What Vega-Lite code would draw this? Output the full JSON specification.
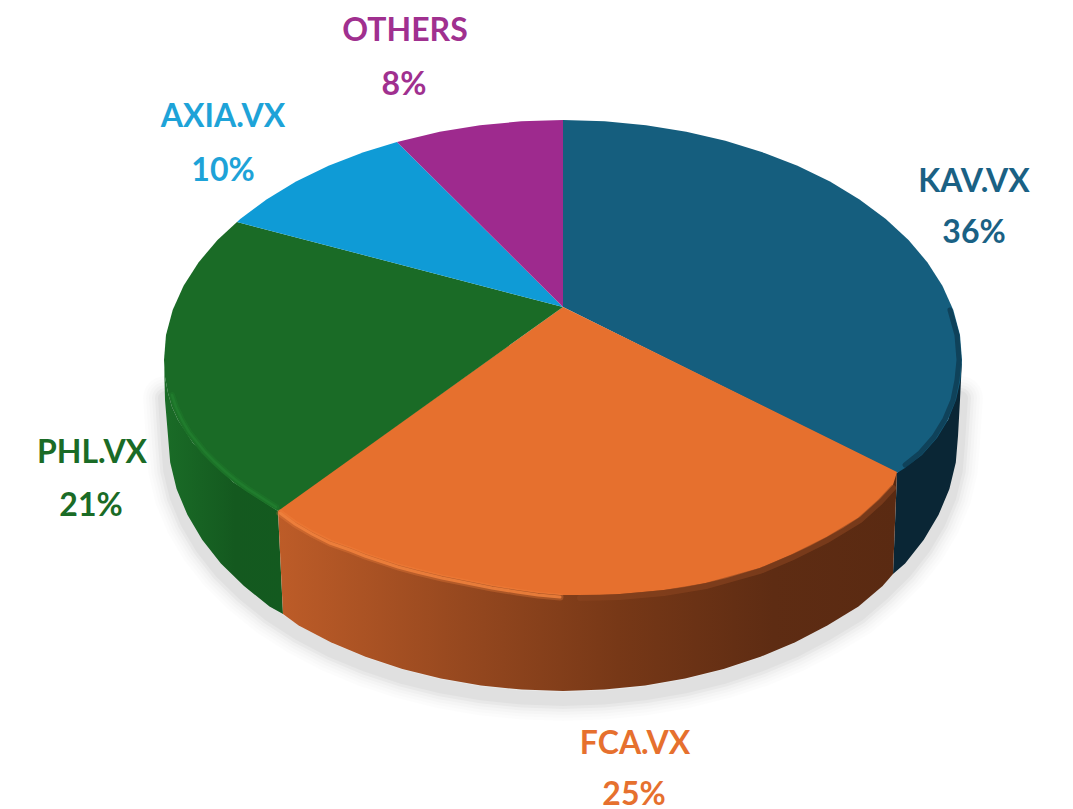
{"$schema":"https://vega.github.io/schema/vega-lite/v6.json","width":1073,"height":809,"padding":0,"autosize":"none","background":"#ffffff","view":{"stroke":null},
"datasets":{
"top":[
{"label":"KAV.VX","order":0,"x":563,"y":307},{"label":"KAV.VX","order":1,"x":563,"y":120},{"label":"KAV.VX","order":2,"x":604.7,"y":121.3},{"label":"KAV.VX","order":3,"x":646,"y":125.3},{"label":"KAV.VX","order":4,"x":686.3,"y":131.8},{"label":"KAV.VX","order":5,"x":725.3,"y":140.8},{"label":"KAV.VX","order":6,"x":762.5,"y":152.2},{"label":"KAV.VX","order":7,"x":797.5,"y":165.8},{"label":"KAV.VX","order":8,"x":830,"y":181.6},{"label":"KAV.VX","order":9,"x":859.5,"y":199.4},{"label":"KAV.VX","order":10,"x":885.8,"y":219},{"label":"KAV.VX","order":11,"x":908.5,"y":240},{"label":"KAV.VX","order":12,"x":927.5,"y":262.4},{"label":"KAV.VX","order":13,"x":942.4,"y":285.8},{"label":"KAV.VX","order":14,"x":953.3,"y":310.1},{"label":"KAV.VX","order":15,"x":960,"y":334.9},{"label":"KAV.VX","order":16,"x":962,"y":360},{"label":"KAV.VX","order":17,"x":960.5,"y":380},{"label":"KAV.VX","order":18,"x":956,"y":400},{"label":"KAV.VX","order":19,"x":948,"y":420},{"label":"KAV.VX","order":20,"x":937,"y":438},{"label":"KAV.VX","order":21,"x":922,"y":455},{"label":"KAV.VX","order":22,"x":905,"y":468},{"label":"KAV.VX","order":23,"x":897,"y":473},
{"label":"FCA.VX","order":0,"x":563,"y":307},{"label":"FCA.VX","order":1,"x":897,"y":472},{"label":"FCA.VX","order":2,"x":893,"y":485},{"label":"FCA.VX","order":3,"x":880,"y":499},{"label":"FCA.VX","order":4,"x":860,"y":517},{"label":"FCA.VX","order":5,"x":843,"y":528},{"label":"FCA.VX","order":6,"x":827,"y":537},{"label":"FCA.VX","order":7,"x":810,"y":546},{"label":"FCA.VX","order":8,"x":793,"y":554},{"label":"FCA.VX","order":9,"x":760,"y":568},{"label":"FCA.VX","order":10,"x":727,"y":578},{"label":"FCA.VX","order":11,"x":706,"y":583},{"label":"FCA.VX","order":12,"x":685,"y":587},{"label":"FCA.VX","order":13,"x":664,"y":590},{"label":"FCA.VX","order":14,"x":643,"y":592},{"label":"FCA.VX","order":15,"x":620,"y":594},{"label":"FCA.VX","order":16,"x":600,"y":595},{"label":"FCA.VX","order":17,"x":580,"y":595},{"label":"FCA.VX","order":18,"x":560,"y":595},{"label":"FCA.VX","order":19,"x":538,"y":593},{"label":"FCA.VX","order":20,"x":517,"y":590},{"label":"FCA.VX","order":21,"x":492,"y":586},{"label":"FCA.VX","order":22,"x":467,"y":581},{"label":"FCA.VX","order":23,"x":442,"y":576},{"label":"FCA.VX","order":24,"x":417,"y":570},{"label":"FCA.VX","order":25,"x":398,"y":565},{"label":"FCA.VX","order":26,"x":380,"y":559},{"label":"FCA.VX","order":27,"x":365,"y":554},{"label":"FCA.VX","order":28,"x":350,"y":548},{"label":"FCA.VX","order":29,"x":330,"y":541},{"label":"FCA.VX","order":30,"x":312,"y":532},{"label":"FCA.VX","order":31,"x":295,"y":522},{"label":"FCA.VX","order":32,"x":278,"y":510},
{"label":"PHL.VX","order":0,"x":563,"y":307},{"label":"PHL.VX","order":1,"x":278,"y":511},{"label":"PHL.VX","order":2,"x":266,"y":504},{"label":"PHL.VX","order":3,"x":255,"y":497},{"label":"PHL.VX","order":4,"x":244,"y":490},{"label":"PHL.VX","order":5,"x":233,"y":482},{"label":"PHL.VX","order":6,"x":222,"y":473},{"label":"PHL.VX","order":7,"x":211,"y":463},{"label":"PHL.VX","order":8,"x":201,"y":453},{"label":"PHL.VX","order":9,"x":193,"y":443},{"label":"PHL.VX","order":10,"x":185,"y":432},{"label":"PHL.VX","order":11,"x":178,"y":420},{"label":"PHL.VX","order":12,"x":172,"y":407},{"label":"PHL.VX","order":13,"x":168,"y":393},{"label":"PHL.VX","order":14,"x":165,"y":377},{"label":"PHL.VX","order":15,"x":164,"y":360},{"label":"PHL.VX","order":16,"x":166,"y":334.9},{"label":"PHL.VX","order":17,"x":172.7,"y":310.1},{"label":"PHL.VX","order":18,"x":183.6,"y":285.8},{"label":"PHL.VX","order":19,"x":198.5,"y":262.4},{"label":"PHL.VX","order":20,"x":217.5,"y":240},{"label":"PHL.VX","order":21,"x":237,"y":222},
{"label":"AXIA.VX","order":0,"x":563,"y":307},{"label":"AXIA.VX","order":1,"x":237,"y":222},{"label":"AXIA.VX","order":2,"x":240.2,"y":219},{"label":"AXIA.VX","order":3,"x":266.5,"y":199.4},{"label":"AXIA.VX","order":4,"x":296,"y":181.6},{"label":"AXIA.VX","order":5,"x":328.5,"y":165.8},{"label":"AXIA.VX","order":6,"x":363.5,"y":152.2},{"label":"AXIA.VX","order":7,"x":397,"y":142},
{"label":"OTHERS","order":0,"x":563,"y":307},{"label":"OTHERS","order":1,"x":397,"y":142},{"label":"OTHERS","order":2,"x":439.7,"y":131.8},{"label":"OTHERS","order":3,"x":480,"y":125.3},{"label":"OTHERS","order":4,"x":521.3,"y":121.3},{"label":"OTHERS","order":5,"x":563,"y":120}
],
"side":[
{"part":"PHL.VX","order":0,"x":164,"y":360},{"part":"PHL.VX","order":1,"x":165,"y":377},{"part":"PHL.VX","order":2,"x":168,"y":393},{"part":"PHL.VX","order":3,"x":172,"y":407},{"part":"PHL.VX","order":4,"x":178,"y":420},{"part":"PHL.VX","order":5,"x":193,"y":443},{"part":"PHL.VX","order":6,"x":233,"y":482},{"part":"PHL.VX","order":7,"x":278,"y":511},{"part":"PHL.VX","order":8,"x":283,"y":614},{"part":"PHL.VX","order":9,"x":269.5,"y":606.6},{"part":"PHL.VX","order":10,"x":244,"y":586},{"part":"PHL.VX","order":11,"x":220.9,"y":563.5},{"part":"PHL.VX","order":12,"x":202.2,"y":539.7},{"part":"PHL.VX","order":13,"x":187.4,"y":514.8},{"part":"PHL.VX","order":14,"x":176.6,"y":489},{"part":"PHL.VX","order":15,"x":170.2,"y":462.6},{"part":"PHL.VX","order":16,"x":168,"y":436},{"part":"PHL.VX","order":17,"x":165,"y":400},
{"part":"FCA.VX","order":0,"x":278,"y":510},{"part":"FCA.VX","order":1,"x":897,"y":472},{"part":"FCA.VX","order":2,"x":893,"y":574},{"part":"FCA.VX","order":3,"x":882.6,"y":585.9},{"part":"FCA.VX","order":4,"x":858.5,"y":606.6},{"part":"FCA.VX","order":5,"x":827.3,"y":625.5},{"part":"FCA.VX","order":6,"x":795.2,"y":642.3},{"part":"FCA.VX","order":7,"x":760.5,"y":656.8},{"part":"FCA.VX","order":8,"x":723.6,"y":668.9},{"part":"FCA.VX","order":9,"x":685.1,"y":678.5},{"part":"FCA.VX","order":10,"x":645.1,"y":685.4},{"part":"FCA.VX","order":11,"x":604.3,"y":689.6},{"part":"FCA.VX","order":12,"x":563,"y":691},{"part":"FCA.VX","order":13,"x":521.7,"y":689.6},{"part":"FCA.VX","order":14,"x":480.9,"y":685.4},{"part":"FCA.VX","order":15,"x":440.9,"y":678.5},{"part":"FCA.VX","order":16,"x":402.4,"y":668.9},{"part":"FCA.VX","order":17,"x":365.5,"y":656.8},{"part":"FCA.VX","order":18,"x":330.8,"y":642.3},{"part":"FCA.VX","order":19,"x":298.7,"y":625.5},{"part":"FCA.VX","order":20,"x":283,"y":614},
{"part":"KAV.VX","order":0,"x":962,"y":360},{"part":"KAV.VX","order":1,"x":948,"y":420},{"part":"KAV.VX","order":2,"x":897,"y":473},{"part":"KAV.VX","order":3,"x":893,"y":574},{"part":"KAV.VX","order":4,"x":905.1,"y":563.5},{"part":"KAV.VX","order":5,"x":923.8,"y":539.7},{"part":"KAV.VX","order":6,"x":938.6,"y":514.8},{"part":"KAV.VX","order":7,"x":949.4,"y":489},{"part":"KAV.VX","order":8,"x":955.8,"y":462.6},{"part":"KAV.VX","order":9,"x":958,"y":436},{"part":"KAV.VX","order":10,"x":960,"y":400}
],
"outline":[
{"order":0,"x":165,"y":390},{"order":1,"x":168,"y":436},{"order":2,"x":170.2,"y":462.6},{"order":3,"x":176.6,"y":489},{"order":4,"x":187.4,"y":514.8},{"order":5,"x":202.2,"y":539.7},{"order":6,"x":220.9,"y":563.5},{"order":7,"x":244,"y":586},{"order":8,"x":269.5,"y":606.6},{"order":9,"x":298.7,"y":625.5},{"order":10,"x":330.8,"y":642.3},{"order":11,"x":365.5,"y":656.8},{"order":12,"x":402.4,"y":668.9},{"order":13,"x":440.9,"y":678.5},{"order":14,"x":480.9,"y":685.4},{"order":15,"x":521.7,"y":689.6},{"order":16,"x":563,"y":691},{"order":17,"x":604.3,"y":689.6},{"order":18,"x":645.1,"y":685.4},{"order":19,"x":685.1,"y":678.5},{"order":20,"x":723.6,"y":668.9},{"order":21,"x":760.5,"y":656.8},{"order":22,"x":795.2,"y":642.3},{"order":23,"x":827.3,"y":625.5},{"order":24,"x":858.5,"y":606.6},{"order":25,"x":882.6,"y":585.9},{"order":26,"x":905.1,"y":563.5},{"order":27,"x":923.8,"y":539.7},{"order":28,"x":938.6,"y":514.8},{"order":29,"x":949.4,"y":489},{"order":30,"x":955.8,"y":462.6},{"order":31,"x":958,"y":436},{"order":32,"x":961,"y":390}
],
"rim":[
{"part":"FCA.VX","order":1,"x":280,"y":513},{"part":"FCA.VX","order":2,"x":295,"y":524},{"part":"FCA.VX","order":3,"x":312,"y":534},{"part":"FCA.VX","order":4,"x":330,"y":543},{"part":"FCA.VX","order":5,"x":350,"y":550},{"part":"FCA.VX","order":6,"x":365,"y":556},{"part":"FCA.VX","order":7,"x":380,"y":561},{"part":"FCA.VX","order":8,"x":398,"y":567},{"part":"FCA.VX","order":9,"x":417,"y":572},{"part":"FCA.VX","order":10,"x":442,"y":578},{"part":"FCA.VX","order":11,"x":467,"y":583},{"part":"FCA.VX","order":12,"x":492,"y":588},{"part":"FCA.VX","order":13,"x":517,"y":592},{"part":"FCA.VX","order":14,"x":538,"y":595},{"part":"FCA.VX","order":15,"x":560,"y":597},
{"part":"PHL.VX","order":1,"x":172,"y":395},{"part":"PHL.VX","order":2,"x":176,"y":407},{"part":"PHL.VX","order":3,"x":182,"y":420},{"part":"PHL.VX","order":4,"x":189,"y":432},{"part":"PHL.VX","order":5,"x":197,"y":442},{"part":"PHL.VX","order":6,"x":205,"y":452},{"part":"PHL.VX","order":7,"x":215,"y":462},{"part":"PHL.VX","order":8,"x":226,"y":472},{"part":"PHL.VX","order":9,"x":237,"y":481},{"part":"PHL.VX","order":10,"x":248,"y":489},{"part":"PHL.VX","order":11,"x":259,"y":496},{"part":"PHL.VX","order":12,"x":276,"y":507},
{"part":"dark","order":1,"x":580,"y":598},{"part":"dark","order":2,"x":620,"y":597},{"part":"dark","order":3,"x":664,"y":593},{"part":"dark","order":4,"x":706,"y":586},{"part":"dark","order":5,"x":760,"y":571},{"part":"dark","order":6,"x":793,"y":557},{"part":"dark","order":7,"x":827,"y":540},{"part":"dark","order":8,"x":860,"y":520},{"part":"dark","order":9,"x":880,"y":502},{"part":"dark","order":10,"x":893,"y":488},
{"part":"blue","order":1,"x":950,"y":310},{"part":"blue","order":2,"x":957,"y":335},{"part":"blue","order":3,"x":959,"y":360},{"part":"blue","order":4,"x":957,"y":380},{"part":"blue","order":5,"x":953,"y":400},{"part":"blue","order":6,"x":945,"y":419},{"part":"blue","order":7,"x":934,"y":437},{"part":"blue","order":8,"x":920,"y":453},{"part":"blue","order":9,"x":905,"y":465}
],
"labels":[
{"label":"KAV.VX","text":"KAV.VX","x":974,"y":182},{"label":"KAV.VX","text":"36%","x":974,"y":233},
{"label":"FCA.VX","text":"FCA.VX","x":635,"y":744},{"label":"FCA.VX","text":"25%","x":634,"y":795},
{"label":"PHL.VX","text":"PHL.VX","x":92,"y":453},{"label":"PHL.VX","text":"21%","x":91,"y":506},
{"label":"AXIA.VX","text":"AXIA.VX","x":223,"y":117},{"label":"AXIA.VX","text":"10%","x":223,"y":171},
{"label":"OTHERS","text":"OTHERS","x":405,"y":31},{"label":"OTHERS","text":"8%","x":404,"y":85}
]},
"encoding":{
"x":{"field":"x","type":"quantitative","axis":null,"scale":{"domain":[0,1073],"nice":false,"zero":false}},
"y":{"field":"y","type":"quantitative","axis":null,"scale":{"domain":[809,0],"nice":false,"zero":false}},
"order":{"field":"order","type":"quantitative"}},
"layer":[
{"data":{"name":"outline"},"mark":{"type":"line","stroke":"#000000","strokeWidth":44,"opacity":0.01,"yOffset":8,"strokeCap":"round"}},
{"data":{"name":"outline"},"mark":{"type":"line","stroke":"#000000","strokeWidth":38,"opacity":0.012,"yOffset":8,"strokeCap":"round"}},
{"data":{"name":"outline"},"mark":{"type":"line","stroke":"#000000","strokeWidth":32,"opacity":0.015,"yOffset":8,"strokeCap":"round"}},
{"data":{"name":"outline"},"mark":{"type":"line","stroke":"#000000","strokeWidth":26,"opacity":0.02,"yOffset":8,"strokeCap":"round"}},
{"data":{"name":"outline"},"mark":{"type":"line","stroke":"#000000","strokeWidth":20,"opacity":0.03,"yOffset":8,"strokeCap":"round"}},
{"data":{"name":"outline"},"mark":{"type":"line","stroke":"#000000","strokeWidth":14,"opacity":0.03,"yOffset":8,"strokeCap":"round"}},
{"data":{"name":"side"},"transform":[{"filter":"datum.part==='PHL.VX'"}],"mark":{"type":"line","filled":true,"stroke":null,"fill":{"x1":0,"y1":0,"x2":1,"y2":0,"gradient":"linear","stops":[{"offset":0,"color":"#1a6c27"},{"offset":0.6,"color":"#14591f"},{"offset":1,"color":"#135a1f"}]}}},
{"data":{"name":"side"},"transform":[{"filter":"datum.part==='KAV.VX'"}],"mark":{"type":"line","filled":true,"stroke":null,"fill":"#0a2635"}},
{"data":{"name":"side"},"transform":[{"filter":"datum.part==='FCA.VX'"}],"mark":{"type":"line","filled":true,"stroke":null,"fill":{"x1":0,"y1":0,"x2":1,"y2":0,"gradient":"linear","stops":[{"offset":0,"color":"#bd5c28"},{"offset":0.3,"color":"#96481f"},{"offset":0.55,"color":"#773817"},{"offset":0.8,"color":"#5e2c13"},{"offset":1,"color":"#5a2a12"}]}}},
{"data":{"name":"top"},"mark":{"type":"line","filled":true,"stroke":null},"encoding":{"fill":{"field":"label","type":"nominal","legend":null,"scale":{"domain":["KAV.VX","FCA.VX","PHL.VX","AXIA.VX","OTHERS"],"range":["#155e7e","#e6702e","#1a6b26","#0f9bd6","#9e2a8e"]}},"detail":{"field":"label"}}},
{"data":{"name":"rim"},"transform":[{"filter":"datum.part==='FCA.VX'"}],"mark":{"type":"line","stroke":"#f5843f","strokeWidth":7,"opacity":0.3,"strokeCap":"round"}},
{"data":{"name":"rim"},"transform":[{"filter":"datum.part==='FCA.VX'"}],"mark":{"type":"line","stroke":"#f5843f","strokeWidth":3,"opacity":0.8,"strokeCap":"round"}},
{"data":{"name":"rim"},"transform":[{"filter":"datum.part==='PHL.VX'"}],"mark":{"type":"line","stroke":"#22802f","strokeWidth":6,"opacity":0.35,"strokeCap":"round"}},
{"data":{"name":"rim"},"transform":[{"filter":"datum.part==='PHL.VX'"}],"mark":{"type":"line","stroke":"#22802f","strokeWidth":2.5,"opacity":0.7,"strokeCap":"round"}},
{"data":{"name":"rim"},"transform":[{"filter":"datum.part==='dark'"}],"mark":{"type":"line","stroke":"#8a4520","strokeWidth":6,"opacity":0.6,"strokeCap":"round"}},
{"data":{"name":"rim"},"transform":[{"filter":"datum.part==='blue'"}],"mark":{"type":"line","stroke":"#0a2635","strokeWidth":5,"opacity":0.5,"strokeCap":"round"}},
{"data":{"name":"labels"},"mark":{"type":"text","font":"Lato","fontWeight":"bold","fontSize":32,"align":"center","baseline":"middle"},"encoding":{"text":{"field":"text"},"order":null,"color":{"field":"label","type":"nominal","legend":null,"scale":{"domain":["KAV.VX","FCA.VX","PHL.VX","AXIA.VX","OTHERS"],"range":["#1a6184","#e6702e","#1a6b26","#1ea3d8","#a0308f"]}}}}
]}
